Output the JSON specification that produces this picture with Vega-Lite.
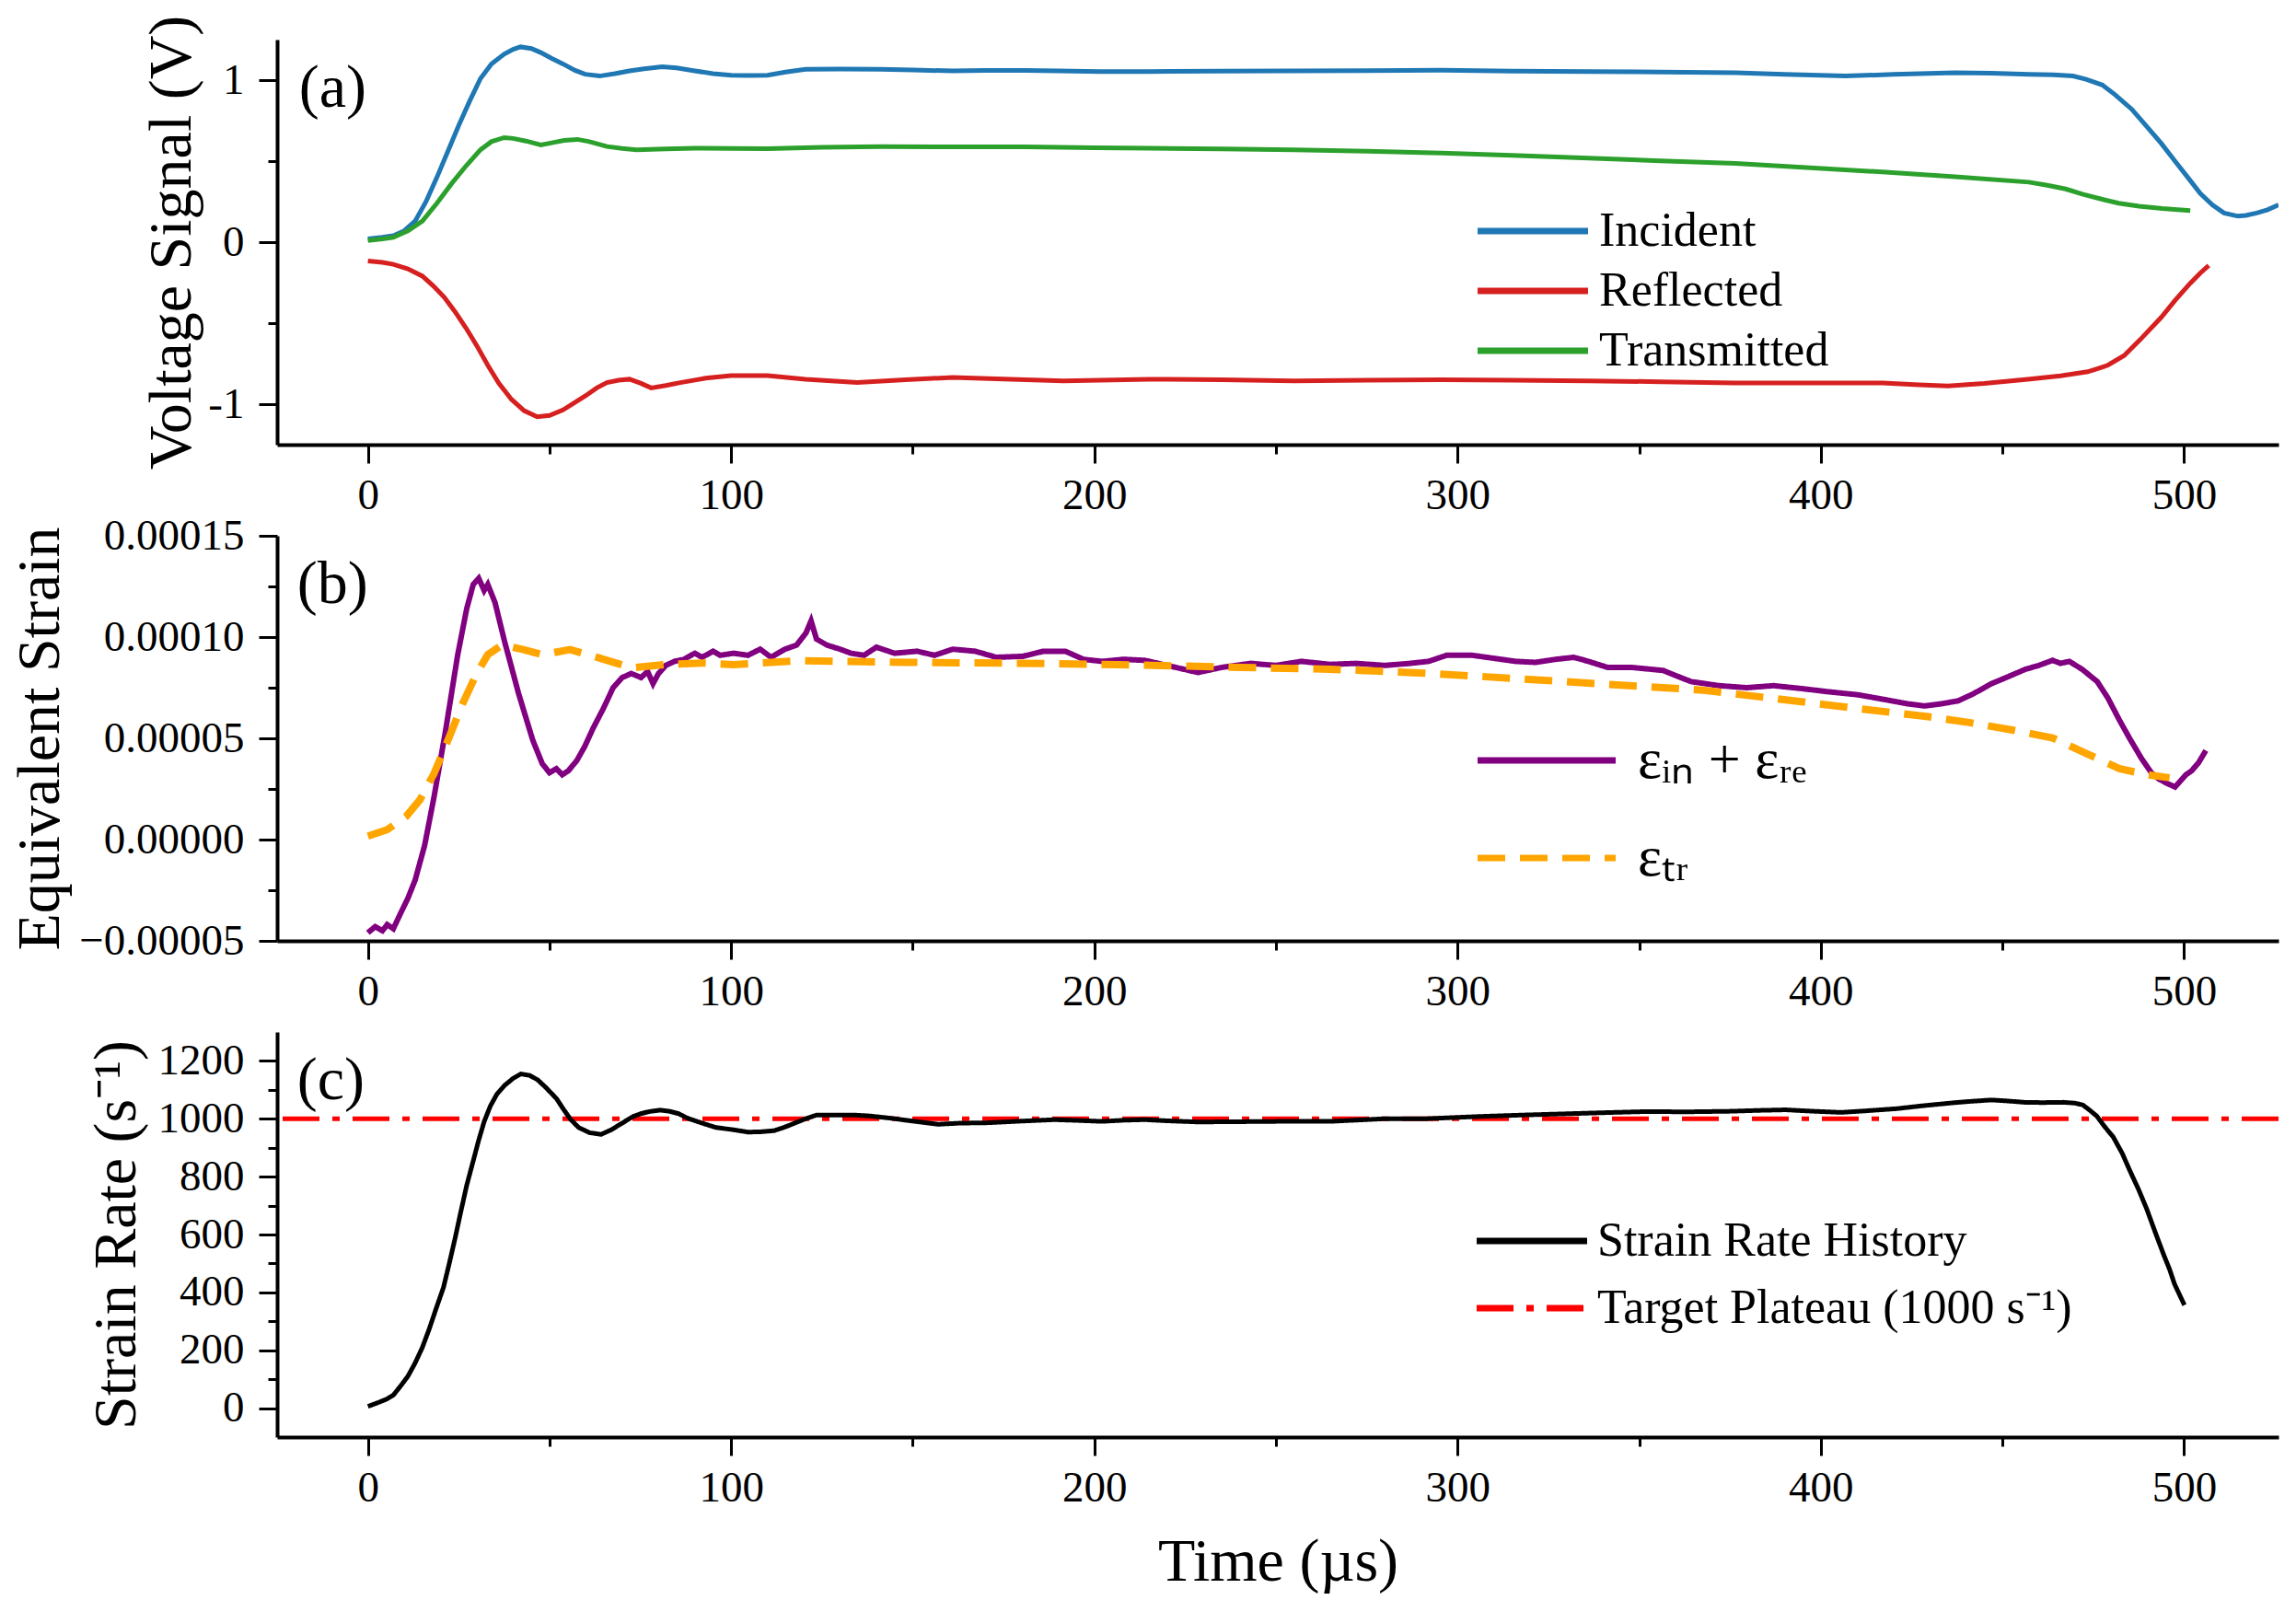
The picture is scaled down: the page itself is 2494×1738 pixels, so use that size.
{
  "$schema": "https://vega.github.io/schema/vega-lite/v6.json",
  "padding": {"left": 10, "top": 16, "right": 5, "bottom": 5},
  "spacing": 99,
  "bounds": "flush",
  "datasets": {
    "volt": [
      {"t": 0, "signal": "Incident", "v": 0.02}, {"t": 4, "signal": "Incident", "v": 0.03}, {"t": 7, "signal": "Incident", "v": 0.04},
      {"t": 10, "signal": "Incident", "v": 0.07}, {"t": 13, "signal": "Incident", "v": 0.13}, {"t": 16, "signal": "Incident", "v": 0.25},
      {"t": 19, "signal": "Incident", "v": 0.40}, {"t": 22, "signal": "Incident", "v": 0.56}, {"t": 25, "signal": "Incident", "v": 0.72},
      {"t": 28, "signal": "Incident", "v": 0.87}, {"t": 31, "signal": "Incident", "v": 1.01}, {"t": 34, "signal": "Incident", "v": 1.10},
      {"t": 37.5, "signal": "Incident", "v": 1.16}, {"t": 40, "signal": "Incident", "v": 1.19}, {"t": 42, "signal": "Incident", "v": 1.205},
      {"t": 45, "signal": "Incident", "v": 1.195}, {"t": 47.6, "signal": "Incident", "v": 1.17}, {"t": 50.5, "signal": "Incident", "v": 1.135},
      {"t": 53.7, "signal": "Incident", "v": 1.10}, {"t": 57, "signal": "Incident", "v": 1.06}, {"t": 59.8, "signal": "Incident", "v": 1.036},
      {"t": 63.8, "signal": "Incident", "v": 1.025}, {"t": 68, "signal": "Incident", "v": 1.04}, {"t": 72, "signal": "Incident", "v": 1.057},
      {"t": 76, "signal": "Incident", "v": 1.07}, {"t": 81, "signal": "Incident", "v": 1.082}, {"t": 85, "signal": "Incident", "v": 1.075},
      {"t": 90, "signal": "Incident", "v": 1.057}, {"t": 95, "signal": "Incident", "v": 1.04}, {"t": 100, "signal": "Incident", "v": 1.03},
      {"t": 105, "signal": "Incident", "v": 1.028}, {"t": 110, "signal": "Incident", "v": 1.03}, {"t": 115, "signal": "Incident", "v": 1.05},
      {"t": 120.5, "signal": "Incident", "v": 1.067}, {"t": 130, "signal": "Incident", "v": 1.068}, {"t": 141, "signal": "Incident", "v": 1.067},
      {"t": 150, "signal": "Incident", "v": 1.062}, {"t": 161, "signal": "Incident", "v": 1.057}, {"t": 170, "signal": "Incident", "v": 1.06},
      {"t": 181, "signal": "Incident", "v": 1.06}, {"t": 190, "signal": "Incident", "v": 1.057}, {"t": 201.5, "signal": "Incident", "v": 1.053},
      {"t": 215, "signal": "Incident", "v": 1.053}, {"t": 235, "signal": "Incident", "v": 1.055}, {"t": 255, "signal": "Incident", "v": 1.057},
      {"t": 275, "signal": "Incident", "v": 1.058}, {"t": 295.6, "signal": "Incident", "v": 1.061}, {"t": 315, "signal": "Incident", "v": 1.056},
      {"t": 336, "signal": "Incident", "v": 1.053}, {"t": 356, "signal": "Incident", "v": 1.05}, {"t": 376.5, "signal": "Incident", "v": 1.046},
      {"t": 390, "signal": "Incident", "v": 1.035}, {"t": 406.8, "signal": "Incident", "v": 1.025}, {"t": 420, "signal": "Incident", "v": 1.035},
      {"t": 437, "signal": "Incident", "v": 1.046}, {"t": 447, "signal": "Incident", "v": 1.042}, {"t": 457.3, "signal": "Incident", "v": 1.036},
      {"t": 464, "signal": "Incident", "v": 1.032}, {"t": 469.4, "signal": "Incident", "v": 1.025}, {"t": 473, "signal": "Incident", "v": 1.005},
      {"t": 477.5, "signal": "Incident", "v": 0.97}, {"t": 481, "signal": "Incident", "v": 0.91}, {"t": 485.6, "signal": "Incident", "v": 0.82},
      {"t": 489.5, "signal": "Incident", "v": 0.72}, {"t": 493.7, "signal": "Incident", "v": 0.61}, {"t": 497.5, "signal": "Incident", "v": 0.50},
      {"t": 501.7, "signal": "Incident", "v": 0.38}, {"t": 504.5, "signal": "Incident", "v": 0.30}, {"t": 507.8, "signal": "Incident", "v": 0.23},
      {"t": 511, "signal": "Incident", "v": 0.18}, {"t": 514.8, "signal": "Incident", "v": 0.16}, {"t": 517, "signal": "Incident", "v": 0.165},
      {"t": 520, "signal": "Incident", "v": 0.18}, {"t": 523, "signal": "Incident", "v": 0.20}, {"t": 526, "signal": "Incident", "v": 0.23},

      {"t": 0, "signal": "Reflected", "v": -0.116}, {"t": 4, "signal": "Reflected", "v": -0.125}, {"t": 7, "signal": "Reflected", "v": -0.137},
      {"t": 11, "signal": "Reflected", "v": -0.165}, {"t": 15, "signal": "Reflected", "v": -0.21}, {"t": 18, "signal": "Reflected", "v": -0.27},
      {"t": 21, "signal": "Reflected", "v": -0.34}, {"t": 24, "signal": "Reflected", "v": -0.43}, {"t": 27, "signal": "Reflected", "v": -0.53},
      {"t": 30, "signal": "Reflected", "v": -0.64}, {"t": 33, "signal": "Reflected", "v": -0.76}, {"t": 36, "signal": "Reflected", "v": -0.87},
      {"t": 39.5, "signal": "Reflected", "v": -0.97}, {"t": 43, "signal": "Reflected", "v": -1.04}, {"t": 46.6, "signal": "Reflected", "v": -1.078},
      {"t": 50, "signal": "Reflected", "v": -1.07}, {"t": 53.7, "signal": "Reflected", "v": -1.036}, {"t": 57, "signal": "Reflected", "v": -0.99},
      {"t": 59.8, "signal": "Reflected", "v": -0.95}, {"t": 63, "signal": "Reflected", "v": -0.9}, {"t": 65.8, "signal": "Reflected", "v": -0.867},
      {"t": 69, "signal": "Reflected", "v": -0.852}, {"t": 72, "signal": "Reflected", "v": -0.846}, {"t": 75, "signal": "Reflected", "v": -0.87},
      {"t": 78, "signal": "Reflected", "v": -0.9}, {"t": 82, "signal": "Reflected", "v": -0.885}, {"t": 86, "signal": "Reflected", "v": -0.867},
      {"t": 93, "signal": "Reflected", "v": -0.84}, {"t": 100, "signal": "Reflected", "v": -0.824}, {"t": 110, "signal": "Reflected", "v": -0.824},
      {"t": 120.5, "signal": "Reflected", "v": -0.846}, {"t": 134.7, "signal": "Reflected", "v": -0.867}, {"t": 148, "signal": "Reflected", "v": -0.85},
      {"t": 161, "signal": "Reflected", "v": -0.835}, {"t": 175, "signal": "Reflected", "v": -0.845}, {"t": 191.5, "signal": "Reflected", "v": -0.856},
      {"t": 215, "signal": "Reflected", "v": -0.846}, {"t": 235, "signal": "Reflected", "v": -0.85}, {"t": 255, "signal": "Reflected", "v": -0.856},
      {"t": 275, "signal": "Reflected", "v": -0.852}, {"t": 295.6, "signal": "Reflected", "v": -0.85}, {"t": 315, "signal": "Reflected", "v": -0.852},
      {"t": 336, "signal": "Reflected", "v": -0.856}, {"t": 356, "signal": "Reflected", "v": -0.862}, {"t": 376.5, "signal": "Reflected", "v": -0.87},
      {"t": 397, "signal": "Reflected", "v": -0.87}, {"t": 417, "signal": "Reflected", "v": -0.87}, {"t": 427, "signal": "Reflected", "v": -0.88},
      {"t": 435, "signal": "Reflected", "v": -0.888}, {"t": 445, "signal": "Reflected", "v": -0.872}, {"t": 457, "signal": "Reflected", "v": -0.846},
      {"t": 466, "signal": "Reflected", "v": -0.825}, {"t": 473.5, "signal": "Reflected", "v": -0.8}, {"t": 479, "signal": "Reflected", "v": -0.76},
      {"t": 483.5, "signal": "Reflected", "v": -0.7}, {"t": 488, "signal": "Reflected", "v": -0.6}, {"t": 493.7, "signal": "Reflected", "v": -0.465},
      {"t": 497.5, "signal": "Reflected", "v": -0.36}, {"t": 501.7, "signal": "Reflected", "v": -0.254}, {"t": 504.5, "signal": "Reflected", "v": -0.19},
      {"t": 506.8, "signal": "Reflected", "v": -0.144},

      {"t": 0, "signal": "Transmitted", "v": 0.01}, {"t": 4, "signal": "Transmitted", "v": 0.02}, {"t": 7, "signal": "Transmitted", "v": 0.03},
      {"t": 11, "signal": "Transmitted", "v": 0.07}, {"t": 15, "signal": "Transmitted", "v": 0.13}, {"t": 19, "signal": "Transmitted", "v": 0.24},
      {"t": 23, "signal": "Transmitted", "v": 0.36}, {"t": 27, "signal": "Transmitted", "v": 0.47}, {"t": 31, "signal": "Transmitted", "v": 0.57},
      {"t": 34, "signal": "Transmitted", "v": 0.62}, {"t": 37.5, "signal": "Transmitted", "v": 0.645}, {"t": 40, "signal": "Transmitted", "v": 0.64},
      {"t": 43.5, "signal": "Transmitted", "v": 0.624}, {"t": 47.6, "signal": "Transmitted", "v": 0.6}, {"t": 50, "signal": "Transmitted", "v": 0.61},
      {"t": 54, "signal": "Transmitted", "v": 0.628}, {"t": 57.7, "signal": "Transmitted", "v": 0.634}, {"t": 61, "signal": "Transmitted", "v": 0.62},
      {"t": 65.8, "signal": "Transmitted", "v": 0.59}, {"t": 70, "signal": "Transmitted", "v": 0.578}, {"t": 74, "signal": "Transmitted", "v": 0.57},
      {"t": 82, "signal": "Transmitted", "v": 0.575}, {"t": 90, "signal": "Transmitted", "v": 0.58}, {"t": 100, "signal": "Transmitted", "v": 0.578},
      {"t": 110, "signal": "Transmitted", "v": 0.577}, {"t": 125, "signal": "Transmitted", "v": 0.585}, {"t": 141, "signal": "Transmitted", "v": 0.59},
      {"t": 160, "signal": "Transmitted", "v": 0.588}, {"t": 181, "signal": "Transmitted", "v": 0.588}, {"t": 200, "signal": "Transmitted", "v": 0.583},
      {"t": 215, "signal": "Transmitted", "v": 0.58}, {"t": 235, "signal": "Transmitted", "v": 0.575}, {"t": 255, "signal": "Transmitted", "v": 0.57},
      {"t": 275, "signal": "Transmitted", "v": 0.561}, {"t": 295.6, "signal": "Transmitted", "v": 0.55}, {"t": 315, "signal": "Transmitted", "v": 0.535},
      {"t": 336, "signal": "Transmitted", "v": 0.518}, {"t": 356, "signal": "Transmitted", "v": 0.502}, {"t": 376.5, "signal": "Transmitted", "v": 0.486},
      {"t": 396, "signal": "Transmitted", "v": 0.46}, {"t": 416.9, "signal": "Transmitted", "v": 0.433}, {"t": 437, "signal": "Transmitted", "v": 0.403},
      {"t": 457.3, "signal": "Transmitted", "v": 0.37}, {"t": 462, "signal": "Transmitted", "v": 0.352}, {"t": 467.4, "signal": "Transmitted", "v": 0.328},
      {"t": 472, "signal": "Transmitted", "v": 0.296}, {"t": 477.5, "signal": "Transmitted", "v": 0.264}, {"t": 482, "signal": "Transmitted", "v": 0.24},
      {"t": 487.6, "signal": "Transmitted", "v": 0.222}, {"t": 494, "signal": "Transmitted", "v": 0.207}, {"t": 501.7, "signal": "Transmitted", "v": 0.195}
    ],
    "strain": [
      {"t": 0, "series": "εᵢₙ + εᵣₑ", "v": -4.6e-5}, {"t": 2, "series": "εᵢₙ + εᵣₑ", "v": -4.3e-5}, {"t": 4, "series": "εᵢₙ + εᵣₑ", "v": -4.5e-5},
      {"t": 5.3, "series": "εᵢₙ + εᵣₑ", "v": -4.2e-5}, {"t": 7, "series": "εᵢₙ + εᵣₑ", "v": -4.4e-5}, {"t": 9.1, "series": "εᵢₙ + εᵣₑ", "v": -3.6e-5},
      {"t": 11, "series": "εᵢₙ + εᵣₑ", "v": -2.9e-5}, {"t": 13, "series": "εᵢₙ + εᵣₑ", "v": -2.0e-5}, {"t": 15.6, "series": "εᵢₙ + εᵣₑ", "v": -0.3e-5},
      {"t": 18.2, "series": "εᵢₙ + εᵣₑ", "v": 2.1e-5}, {"t": 21.4, "series": "εᵢₙ + εᵣₑ", "v": 5.4e-5}, {"t": 24.7, "series": "εᵢₙ + εᵣₑ", "v": 9.1e-5},
      {"t": 27.2, "series": "εᵢₙ + εᵣₑ", "v": 11.4e-5}, {"t": 29, "series": "εᵢₙ + εᵣₑ", "v": 12.6e-5}, {"t": 30.5, "series": "εᵢₙ + εᵣₑ", "v": 12.9e-5},
      {"t": 32, "series": "εᵢₙ + εᵣₑ", "v": 12.3e-5}, {"t": 33, "series": "εᵢₙ + εᵣₑ", "v": 12.6e-5}, {"t": 35, "series": "εᵢₙ + εᵣₑ", "v": 11.7e-5},
      {"t": 37.6, "series": "εᵢₙ + εᵣₑ", "v": 9.8e-5}, {"t": 41.5, "series": "εᵢₙ + εᵣₑ", "v": 7.2e-5}, {"t": 45.4, "series": "εᵢₙ + εᵣₑ", "v": 4.9e-5},
      {"t": 48, "series": "εᵢₙ + εᵣₑ", "v": 3.75e-5}, {"t": 50, "series": "εᵢₙ + εᵣₑ", "v": 3.3e-5}, {"t": 51.9, "series": "εᵢₙ + εᵣₑ", "v": 3.5e-5},
      {"t": 53.5, "series": "εᵢₙ + εᵣₑ", "v": 3.2e-5}, {"t": 55.2, "series": "εᵢₙ + εᵣₑ", "v": 3.4e-5}, {"t": 57.5, "series": "εᵢₙ + εᵣₑ", "v": 3.9e-5},
      {"t": 59.7, "series": "εᵢₙ + εᵣₑ", "v": 4.6e-5}, {"t": 62, "series": "εᵢₙ + εᵣₑ", "v": 5.5e-5}, {"t": 64.9, "series": "εᵢₙ + εᵣₑ", "v": 6.5e-5},
      {"t": 67.5, "series": "εᵢₙ + εᵣₑ", "v": 7.5e-5}, {"t": 70, "series": "εᵢₙ + εᵣₑ", "v": 8.0e-5}, {"t": 72.5, "series": "εᵢₙ + εᵣₑ", "v": 8.2e-5},
      {"t": 75.2, "series": "εᵢₙ + εᵣₑ", "v": 8.0e-5}, {"t": 77, "series": "εᵢₙ + εᵣₑ", "v": 8.3e-5}, {"t": 78.5, "series": "εᵢₙ + εᵣₑ", "v": 7.7e-5},
      {"t": 80, "series": "εᵢₙ + εᵣₑ", "v": 8.2e-5}, {"t": 82, "series": "εᵢₙ + εᵣₑ", "v": 8.6e-5}, {"t": 84.4, "series": "εᵢₙ + εᵣₑ", "v": 8.8e-5},
      {"t": 87, "series": "εᵢₙ + εᵣₑ", "v": 8.9e-5}, {"t": 90, "series": "εᵢₙ + εᵣₑ", "v": 9.2e-5}, {"t": 92, "series": "εᵢₙ + εᵣₑ", "v": 9.0e-5},
      {"t": 95, "series": "εᵢₙ + εᵣₑ", "v": 9.3e-5}, {"t": 97, "series": "εᵢₙ + εᵣₑ", "v": 9.1e-5}, {"t": 100.7, "series": "εᵢₙ + εᵣₑ", "v": 9.2e-5},
      {"t": 104.6, "series": "εᵢₙ + εᵣₑ", "v": 9.1e-5}, {"t": 108, "series": "εᵢₙ + εᵣₑ", "v": 9.4e-5}, {"t": 111, "series": "εᵢₙ + εᵣₑ", "v": 9.0e-5},
      {"t": 114.8, "series": "εᵢₙ + εᵣₑ", "v": 9.4e-5}, {"t": 118, "series": "εᵢₙ + εᵣₑ", "v": 9.6e-5}, {"t": 120.6, "series": "εᵢₙ + εᵣₑ", "v": 10.2e-5},
      {"t": 122, "series": "εᵢₙ + εᵣₑ", "v": 10.8e-5}, {"t": 123.5, "series": "εᵢₙ + εᵣₑ", "v": 9.9e-5}, {"t": 126.4, "series": "εᵢₙ + εᵣₑ", "v": 9.6e-5},
      {"t": 130, "series": "εᵢₙ + εᵣₑ", "v": 9.4e-5}, {"t": 133, "series": "εᵢₙ + εᵣₑ", "v": 9.2e-5}, {"t": 136.6, "series": "εᵢₙ + εᵣₑ", "v": 9.1e-5},
      {"t": 140, "series": "εᵢₙ + εᵣₑ", "v": 9.5e-5}, {"t": 145, "series": "εᵢₙ + εᵣₑ", "v": 9.2e-5}, {"t": 151.2, "series": "εᵢₙ + εᵣₑ", "v": 9.3e-5},
      {"t": 156, "series": "εᵢₙ + εᵣₑ", "v": 9.1e-5}, {"t": 161, "series": "εᵢₙ + εᵣₑ", "v": 9.4e-5}, {"t": 167.2, "series": "εᵢₙ + εᵣₑ", "v": 9.3e-5},
      {"t": 173, "series": "εᵢₙ + εᵣₑ", "v": 9.0e-5}, {"t": 180.3, "series": "εᵢₙ + εᵣₑ", "v": 9.05e-5}, {"t": 186, "series": "εᵢₙ + εᵣₑ", "v": 9.3e-5},
      {"t": 192, "series": "εᵢₙ + εᵣₑ", "v": 9.3e-5}, {"t": 197, "series": "εᵢₙ + εᵣₑ", "v": 8.9e-5}, {"t": 202.2, "series": "εᵢₙ + εᵣₑ", "v": 8.8e-5},
      {"t": 208, "series": "εᵢₙ + εᵣₑ", "v": 8.9e-5}, {"t": 213.9, "series": "εᵢₙ + εᵣₑ", "v": 8.85e-5}, {"t": 220, "series": "εᵢₙ + εᵣₑ", "v": 8.6e-5},
      {"t": 228.5, "series": "εᵢₙ + εᵣₑ", "v": 8.25e-5}, {"t": 235, "series": "εᵢₙ + εᵣₑ", "v": 8.5e-5}, {"t": 243, "series": "εᵢₙ + εᵣₑ", "v": 8.7e-5},
      {"t": 250, "series": "εᵢₙ + εᵣₑ", "v": 8.6e-5}, {"t": 257, "series": "εᵢₙ + εᵣₑ", "v": 8.8e-5}, {"t": 264.9, "series": "εᵢₙ + εᵣₑ", "v": 8.65e-5},
      {"t": 272, "series": "εᵢₙ + εᵣₑ", "v": 8.7e-5}, {"t": 280, "series": "εᵢₙ + εᵣₑ", "v": 8.6e-5}, {"t": 286.8, "series": "εᵢₙ + εᵣₑ", "v": 8.7e-5},
      {"t": 292, "series": "εᵢₙ + εᵣₑ", "v": 8.8e-5}, {"t": 297, "series": "εᵢₙ + εᵣₑ", "v": 9.1e-5}, {"t": 304, "series": "εᵢₙ + εᵣₑ", "v": 9.1e-5},
      {"t": 310, "series": "εᵢₙ + εᵣₑ", "v": 8.95e-5}, {"t": 316, "series": "εᵢₙ + εᵣₑ", "v": 8.8e-5}, {"t": 321.4, "series": "εᵢₙ + εᵣₑ", "v": 8.75e-5},
      {"t": 327, "series": "εᵢₙ + εᵣₑ", "v": 8.9e-5}, {"t": 332, "series": "εᵢₙ + εᵣₑ", "v": 9.0e-5}, {"t": 336, "series": "εᵢₙ + εᵣₑ", "v": 8.8e-5},
      {"t": 341.3, "series": "εᵢₙ + εᵣₑ", "v": 8.5e-5}, {"t": 348, "series": "εᵢₙ + εᵣₑ", "v": 8.5e-5}, {"t": 356.6, "series": "εᵢₙ + εᵣₑ", "v": 8.35e-5},
      {"t": 360, "series": "εᵢₙ + εᵣₑ", "v": 8.1e-5}, {"t": 364.3, "series": "εᵢₙ + εᵣₑ", "v": 7.8e-5}, {"t": 372, "series": "εᵢₙ + εᵣₑ", "v": 7.6e-5},
      {"t": 379.6, "series": "εᵢₙ + εᵣₑ", "v": 7.5e-5}, {"t": 387, "series": "εᵢₙ + εᵣₑ", "v": 7.6e-5}, {"t": 395, "series": "εᵢₙ + εᵣₑ", "v": 7.45e-5},
      {"t": 402, "series": "εᵢₙ + εᵣₑ", "v": 7.3e-5}, {"t": 410.2, "series": "εᵢₙ + εᵣₑ", "v": 7.15e-5}, {"t": 418, "series": "εᵢₙ + εᵣₑ", "v": 6.9e-5},
      {"t": 424, "series": "εᵢₙ + εᵣₑ", "v": 6.7e-5}, {"t": 428.6, "series": "εᵢₙ + εᵣₑ", "v": 6.6e-5}, {"t": 433, "series": "εᵢₙ + εᵣₑ", "v": 6.7e-5},
      {"t": 437.8, "series": "εᵢₙ + εᵣₑ", "v": 6.85e-5}, {"t": 442, "series": "εᵢₙ + εᵣₑ", "v": 7.2e-5}, {"t": 447, "series": "εᵢₙ + εᵣₑ", "v": 7.7e-5},
      {"t": 451, "series": "εᵢₙ + εᵣₑ", "v": 8.0e-5}, {"t": 456.2, "series": "εᵢₙ + εᵣₑ", "v": 8.4e-5}, {"t": 460, "series": "εᵢₙ + εᵣₑ", "v": 8.6e-5},
      {"t": 463.8, "series": "εᵢₙ + εᵣₑ", "v": 8.85e-5}, {"t": 466, "series": "εᵢₙ + εᵣₑ", "v": 8.7e-5}, {"t": 468.4, "series": "εᵢₙ + εᵣₑ", "v": 8.8e-5},
      {"t": 472, "series": "εᵢₙ + εᵣₑ", "v": 8.4e-5}, {"t": 476.1, "series": "εᵢₙ + εᵣₑ", "v": 7.8e-5}, {"t": 479, "series": "εᵢₙ + εᵣₑ", "v": 7.0e-5},
      {"t": 482.2, "series": "εᵢₙ + εᵣₑ", "v": 5.9e-5}, {"t": 485, "series": "εᵢₙ + εᵣₑ", "v": 5.0e-5}, {"t": 488.3, "series": "εᵢₙ + εᵣₑ", "v": 4.0e-5},
      {"t": 491, "series": "εᵢₙ + εᵣₑ", "v": 3.3e-5}, {"t": 493, "series": "εᵢₙ + εᵣₑ", "v": 3.0e-5}, {"t": 495, "series": "εᵢₙ + εᵣₑ", "v": 2.8e-5},
      {"t": 497.5, "series": "εᵢₙ + εᵣₑ", "v": 2.6e-5}, {"t": 499, "series": "εᵢₙ + εᵣₑ", "v": 2.9e-5}, {"t": 500.5, "series": "εᵢₙ + εᵣₑ", "v": 3.2e-5},
      {"t": 502.1, "series": "εᵢₙ + εᵣₑ", "v": 3.4e-5}, {"t": 504, "series": "εᵢₙ + εᵣₑ", "v": 3.8e-5}, {"t": 506, "series": "εᵢₙ + εᵣₑ", "v": 4.4e-5},

      {"t": 0, "series": "εₜᵣ", "v": 0.17e-5}, {"t": 5.3, "series": "εₜᵣ", "v": 0.49e-5}, {"t": 10.5, "series": "εₜᵣ", "v": 1.14e-5},
      {"t": 14.3, "series": "εₜᵣ", "v": 1.96e-5}, {"t": 18.2, "series": "εₜᵣ", "v": 3.26e-5}, {"t": 22, "series": "εₜᵣ", "v": 4.89e-5},
      {"t": 26, "series": "εₜᵣ", "v": 6.68e-5}, {"t": 29.8, "series": "εₜᵣ", "v": 8.15e-5}, {"t": 33, "series": "εₜᵣ", "v": 9.13e-5},
      {"t": 37, "series": "εₜᵣ", "v": 9.62e-5}, {"t": 42.8, "series": "εₜᵣ", "v": 9.38e-5}, {"t": 48, "series": "εₜᵣ", "v": 9.13e-5},
      {"t": 55.7, "series": "εₜᵣ", "v": 9.38e-5}, {"t": 63.6, "series": "εₜᵣ", "v": 8.97e-5}, {"t": 72.6, "series": "εₜᵣ", "v": 8.48e-5},
      {"t": 81.6, "series": "εₜᵣ", "v": 8.64e-5}, {"t": 92, "series": "εₜᵣ", "v": 8.72e-5}, {"t": 100.7, "series": "εₜᵣ", "v": 8.64e-5},
      {"t": 119, "series": "εₜᵣ", "v": 8.83e-5}, {"t": 148.3, "series": "εₜᵣ", "v": 8.75e-5}, {"t": 177.4, "series": "εₜᵣ", "v": 8.71e-5},
      {"t": 206.6, "series": "εₜᵣ", "v": 8.64e-5}, {"t": 235.7, "series": "εₜᵣ", "v": 8.52e-5}, {"t": 264.9, "series": "εₜᵣ", "v": 8.41e-5},
      {"t": 290.8, "series": "εₜᵣ", "v": 8.22e-5}, {"t": 306, "series": "εₜᵣ", "v": 8.06e-5}, {"t": 326, "series": "εₜᵣ", "v": 7.84e-5},
      {"t": 346, "series": "εₜᵣ", "v": 7.61e-5}, {"t": 367.4, "series": "εₜᵣ", "v": 7.38e-5}, {"t": 388.8, "series": "εₜᵣ", "v": 6.93e-5},
      {"t": 410.2, "series": "εₜᵣ", "v": 6.47e-5}, {"t": 428.6, "series": "εₜᵣ", "v": 6.09e-5}, {"t": 440.9, "series": "εₜᵣ", "v": 5.78e-5},
      {"t": 453.1, "series": "εₜᵣ", "v": 5.4e-5}, {"t": 463.8, "series": "εₜᵣ", "v": 5.02e-5}, {"t": 473, "series": "εₜᵣ", "v": 4.26e-5},
      {"t": 482.2, "series": "εₜᵣ", "v": 3.5e-5}, {"t": 490, "series": "εₜᵣ", "v": 3.2e-5}, {"t": 496, "series": "εₜᵣ", "v": 3.05e-5}
    ],
    "rate": [
      {"t": 0, "v": 6}, {"t": 3, "v": 20}, {"t": 5.3, "v": 32}, {"t": 7, "v": 45}, {"t": 9.1, "v": 78}, {"t": 11, "v": 110},
      {"t": 13, "v": 156}, {"t": 15, "v": 210}, {"t": 16.9, "v": 274}, {"t": 18.8, "v": 345}, {"t": 20.8, "v": 417}, {"t": 22.4, "v": 500},
      {"t": 24, "v": 587}, {"t": 25.6, "v": 680}, {"t": 27.2, "v": 770}, {"t": 28.9, "v": 850}, {"t": 30.5, "v": 926}, {"t": 32, "v": 990},
      {"t": 33.7, "v": 1044}, {"t": 35.5, "v": 1085}, {"t": 37.6, "v": 1115}, {"t": 40, "v": 1140}, {"t": 42.1, "v": 1155}, {"t": 44.5, "v": 1150},
      {"t": 46.7, "v": 1135}, {"t": 49, "v": 1108}, {"t": 51.9, "v": 1070}, {"t": 54, "v": 1030}, {"t": 55.8, "v": 998}, {"t": 58, "v": 970},
      {"t": 61, "v": 952}, {"t": 64.2, "v": 946}, {"t": 67, "v": 962}, {"t": 70, "v": 985}, {"t": 73, "v": 1008}, {"t": 75.2, "v": 1018},
      {"t": 77.5, "v": 1025}, {"t": 80.4, "v": 1030}, {"t": 83, "v": 1026}, {"t": 85.5, "v": 1018}, {"t": 88, "v": 1002}, {"t": 92, "v": 985},
      {"t": 95.8, "v": 970}, {"t": 100.7, "v": 962}, {"t": 104.6, "v": 954}, {"t": 108, "v": 955}, {"t": 111.8, "v": 959}, {"t": 114.5, "v": 970},
      {"t": 117.7, "v": 986}, {"t": 120.5, "v": 1000}, {"t": 123.5, "v": 1013}, {"t": 128, "v": 1013}, {"t": 133.7, "v": 1013}, {"t": 138, "v": 1010},
      {"t": 143.9, "v": 1002}, {"t": 150, "v": 992}, {"t": 157, "v": 981}, {"t": 163, "v": 985}, {"t": 170.2, "v": 986}, {"t": 180, "v": 992},
      {"t": 189, "v": 997}, {"t": 196, "v": 994}, {"t": 202.2, "v": 991}, {"t": 208, "v": 995}, {"t": 213.9, "v": 997}, {"t": 220, "v": 993},
      {"t": 228.5, "v": 989}, {"t": 240, "v": 990}, {"t": 250.3, "v": 991}, {"t": 265, "v": 991}, {"t": 279.5, "v": 1000}, {"t": 290.8, "v": 1000},
      {"t": 306, "v": 1008}, {"t": 318, "v": 1013}, {"t": 329, "v": 1017}, {"t": 340, "v": 1021}, {"t": 352, "v": 1025}, {"t": 363, "v": 1024},
      {"t": 375, "v": 1026}, {"t": 383, "v": 1029}, {"t": 390.3, "v": 1031}, {"t": 398, "v": 1026}, {"t": 405.6, "v": 1022}, {"t": 413, "v": 1028},
      {"t": 420.9, "v": 1035}, {"t": 428, "v": 1045}, {"t": 436.2, "v": 1055}, {"t": 441, "v": 1060}, {"t": 446.9, "v": 1065}, {"t": 451, "v": 1062},
      {"t": 456, "v": 1057}, {"t": 461, "v": 1056}, {"t": 466.8, "v": 1057}, {"t": 470, "v": 1054}, {"t": 472.1, "v": 1048}, {"t": 474, "v": 1030},
      {"t": 476, "v": 1009}, {"t": 478, "v": 975}, {"t": 480.5, "v": 937}, {"t": 483, "v": 880}, {"t": 485.1, "v": 820}, {"t": 487.5, "v": 755},
      {"t": 489.7, "v": 689}, {"t": 492, "v": 610}, {"t": 494.3, "v": 533}, {"t": 496, "v": 480}, {"t": 497.4, "v": 428}, {"t": 500.1, "v": 356}
    ]
  },
  "vconcat": [
    {
      "width": 2174,
      "height": 440,
      "resolve": {"axis": {"x": "independent", "y": "independent"}},
      "layer": [
        {
          "data": {"name": "volt"},
          "mark": {"type": "line", "strokeWidth": 5, "clip": true},
          "encoding": {
            "x": {
              "field": "t", "type": "quantitative",
              "scale": {"domain": [-25, 526], "nice": false, "zero": false},
              "axis": {"orient": "bottom", "title": null, "values": [0, 100, 200, 300, 400, 500], "format": "d", "tickSize": 20}
            },
            "y": {
              "field": "v", "type": "quantitative",
              "scale": {"domain": [-1.25, 1.25], "nice": false},
              "axis": {
                "orient": "left", "title": "Voltage Signal (V)", "titlePadding": 5,
                "values": [-1, 0, 1], "format": "d", "tickSize": 20,
                "labelExpr": "datum.value < 0 ? '-' + abs(datum.value) : datum.label"
              }
            },
            "color": {
              "field": "signal", "type": "nominal",
              "scale": {"domain": ["Incident", "Reflected", "Transmitted"], "range": ["#1f77b4", "#d62020", "#2ca02c"]},
              "legend": {
                "title": null, "orient": "none", "legendX": 1338, "legendY": 182,
                "symbolType": "M-4,0H4", "symbolSize": 900, "symbolStrokeWidth": 7,
                "labelOffset": 46, "rowPadding": 13, "labelLimit": 0
              }
            }
          }
        },
        {
          "data": {"values": [{}]},
          "mark": {"type": "text", "align": "left", "baseline": "middle", "fontSize": 66},
          "encoding": {
            "x": {"datum": -19, "type": "quantitative",
              "axis": {"orient": "bottom", "title": null, "values": [50, 150, 250, 350, 450], "labels": false, "domain": false, "tickSize": 10}},
            "y": {"datum": 0.95, "type": "quantitative",
              "axis": {"orient": "left", "title": null, "values": [-0.5, 0.5], "labels": false, "domain": false, "tickSize": 10}},
            "text": {"value": "(a)"}
          }
        }
      ]
    },
    {
      "width": 2174,
      "height": 440,
      "resolve": {"axis": {"x": "independent", "y": "independent"}},
      "layer": [
        {
          "data": {"name": "strain"},
          "transform": [{"filter": "datum.series == 'εᵢₙ + εᵣₑ'"}],
          "mark": {"type": "line", "strokeWidth": 6, "clip": true},
          "encoding": {
            "x": {
              "field": "t", "type": "quantitative",
              "scale": {"domain": [-25, 526], "nice": false, "zero": false},
              "axis": {"orient": "bottom", "title": null, "values": [0, 100, 200, 300, 400, 500], "format": "d", "tickSize": 20}
            },
            "y": {
              "field": "v", "type": "quantitative",
              "scale": {"domain": [-0.00005, 0.00015], "nice": false, "zero": false},
              "axis": {
                "orient": "left", "title": "Equivalent Strain", "titlePadding": 24,
                "values": [-0.00005, 0, 0.00005, 0.0001, 0.00015], "format": ".5f", "tickSize": 20
              }
            },
            "color": {
              "field": "series", "type": "nominal",
              "scale": {"domain": ["εᵢₙ + εᵣₑ", "εₜᵣ"], "range": ["#800080", "#ffa500"]},
              "legend": {
                "title": null, "orient": "none", "legendX": 1348, "legendY": 213,
                "symbolType": "M-5,0H5", "symbolSize": 900, "symbolStrokeWidth": 7,
                "labelOffset": 68, "rowPadding": 44, "labelFontSize": 62, "labelLimit": 0
              }
            },
            "strokeDash": {
              "field": "series", "type": "nominal",
              "scale": {"domain": ["εᵢₙ + εᵣₑ", "εₜᵣ"], "range": [[1, 0], [30, 16]]},
              "legend": {
                "title": null, "orient": "none", "legendX": 1348, "legendY": 213,
                "symbolType": "M-5,0H5", "symbolSize": 900, "symbolStrokeWidth": 7,
                "labelOffset": 68, "rowPadding": 44, "labelFontSize": 62, "labelLimit": 0
              }
            }
          }
        },
        {
          "data": {"name": "strain"},
          "transform": [{"filter": "datum.series == 'εₜᵣ'"}],
          "mark": {"type": "line", "strokeWidth": 8, "clip": true},
          "encoding": {
            "x": {"field": "t", "type": "quantitative", "axis": null},
            "y": {"field": "v", "type": "quantitative", "axis": null},
            "color": {"field": "series", "type": "nominal"},
            "strokeDash": {"field": "series", "type": "nominal"}
          }
        },
        {
          "data": {"values": [{}]},
          "mark": {"type": "text", "align": "left", "baseline": "middle", "fontSize": 66},
          "encoding": {
            "x": {"datum": -19.5, "type": "quantitative",
              "axis": {"orient": "bottom", "title": null, "values": [50, 150, 250, 350, 450], "labels": false, "domain": false, "tickSize": 10}},
            "y": {"datum": 0.000126, "type": "quantitative",
              "axis": {"orient": "left", "title": null, "values": [-0.000025, 0.000025, 0.000075, 0.000125], "labels": false, "domain": false, "tickSize": 10}},
            "text": {"value": "(b)"}
          }
        }
      ]
    },
    {
      "width": 2174,
      "height": 440,
      "resolve": {"axis": {"x": "independent", "y": "independent"}},
      "layer": [
        {
          "data": {"values": [{"series": "Target Plateau (1000 s⁻¹)", "v": 1000}]},
          "mark": {"type": "rule", "strokeWidth": 5},
          "encoding": {
            "y": {"field": "v", "type": "quantitative", "axis": null},
            "color": {"field": "series", "type": "nominal"},
            "strokeDash": {"field": "series", "type": "nominal"}
          }
        },
        {
          "data": {"name": "rate"},
          "transform": [{"calculate": "'Strain Rate History'", "as": "series"}],
          "mark": {"type": "line", "strokeWidth": 5, "clip": true},
          "encoding": {
            "x": {
              "field": "t", "type": "quantitative",
              "scale": {"domain": [-25, 526], "nice": false, "zero": false},
              "axis": {"orient": "bottom", "title": "Time (µs)", "titlePadding": 25, "values": [0, 100, 200, 300, 400, 500], "format": "d", "tickSize": 20}
            },
            "y": {
              "field": "v", "type": "quantitative",
              "scale": {"domain": [-100, 1300], "nice": false, "zero": false},
              "axis": {
                "orient": "left", "title": "Strain Rate (s⁻¹)", "titlePadding": 11,
                "values": [0, 200, 400, 600, 800, 1000, 1200], "format": "d", "tickSize": 20
              }
            },
            "color": {
              "field": "series", "type": "nominal",
              "scale": {"domain": ["Strain Rate History", "Target Plateau (1000 s⁻¹)"], "range": ["#000000", "#ff0000"]},
              "legend": {
                "title": null, "orient": "none", "legendX": 1337, "legendY": 201,
                "symbolType": "M-4,0H4", "symbolSize": 900, "symbolStrokeWidth": 7,
                "labelOffset": 45, "rowPadding": 21, "labelLimit": 0
              }
            },
            "strokeDash": {
              "field": "series", "type": "nominal",
              "scale": {"domain": ["Strain Rate History", "Target Plateau (1000 s⁻¹)"], "range": [[1, 0], [40, 14, 8, 14]]},
              "legend": {
                "title": null, "orient": "none", "legendX": 1337, "legendY": 201,
                "symbolType": "M-4,0H4", "symbolSize": 900, "symbolStrokeWidth": 7,
                "labelOffset": 45, "rowPadding": 21, "labelLimit": 0
              }
            }
          }
        },
        {
          "data": {"values": [{}]},
          "mark": {"type": "text", "align": "left", "baseline": "middle", "fontSize": 66},
          "encoding": {
            "x": {"datum": -19.5, "type": "quantitative",
              "axis": {"orient": "bottom", "title": null, "values": [50, 150, 250, 350, 450], "labels": false, "domain": false, "tickSize": 10}},
            "y": {"datum": 1132, "type": "quantitative",
              "axis": {"orient": "left", "title": null, "values": [100, 300, 500, 700, 900, 1100], "labels": false, "domain": false, "tickSize": 10}},
            "text": {"value": "(c)"}
          }
        }
      ]
    }
  ],
  "resolve": {
    "scale": {"color": "independent", "strokeDash": "independent"},
    "legend": {"color": "independent", "strokeDash": "independent"}
  },
  "config": {
    "font": "Liberation Serif",
    "view": {"stroke": null},
    "text": {"font": "Liberation Serif", "color": "black"},
    "axis": {
      "grid": false,
      "labelFont": "Liberation Serif", "labelFontSize": 47, "labelColor": "black", "labelLimit": 0,
      "titleFont": "Liberation Serif", "titleFontSize": 66, "titleFontWeight": "normal", "titleColor": "black",
      "domainColor": "black", "domainWidth": 4, "tickColor": "black", "tickWidth": 3,
      "labelPadding": 16
    },
    "axisX": {"labelPadding": 12},
    "legend": {
      "labelFont": "Liberation Serif", "labelFontSize": 52, "labelColor": "black"
    }
  }
}
